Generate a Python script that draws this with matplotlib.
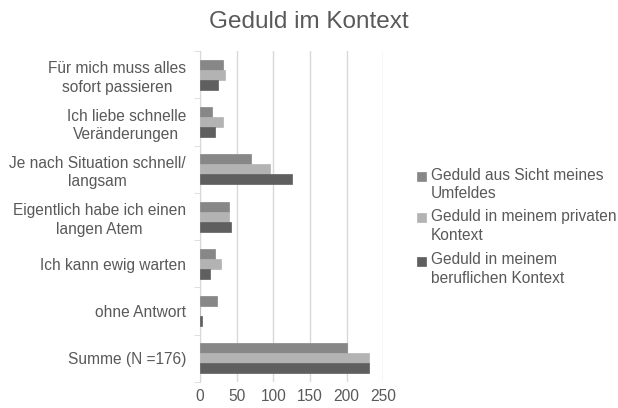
import matplotlib
matplotlib.use("Agg")
import matplotlib.pyplot as plt
import numpy as np
from matplotlib.patches import Rectangle

plt.rcParams['font.family'] = ['Liberation Sans', 'DejaVu Sans']

categories = ["Für mich muss alles\nsofort passieren",
              "Ich liebe schnelle\nVeränderungen",
              "Je nach Situation schnell/\nlangsam",
              "Eigentlich habe ich einen\nlangen Atem",
              "Ich kann ewig warten",
              "ohne Antwort",
              "Summe (N =176)"]
series_names = ["Geduld aus Sicht meines\nUmfeldes",
                "Geduld in meinem privaten\nKontext",
                "Geduld in meinem\nberuflichen Kontext"]
umfeld = [31, 17, 70, 40, 21, 23, 201]
privat = [34, 32, 96, 39, 28, 0, 230]
beruf = [24, 21, 126, 42, 14, 3, 230]
colors = ["#878787", "#b3b3b3", "#5f5f5f"]
xticks = [0, 50, 100, 150, 200, 250]

W, H = 618, 408
fig = plt.figure(figsize=(W / 100, H / 100), dpi=100)
ax = fig.add_axes([0.3236, 0.0637, 0.2966, 0.811])
txt = "#595959"

n = len(categories)
y = np.arange(n)
h = 0.212
for i, (vals, c) in enumerate(zip([umfeld, privat, beruf], colors)):
    ax.barh(y + (i - 1) * h, vals, height=h, color=c, edgecolor=c, linewidth=0.5, zorder=3)

ax.set_ylim(n - 0.5, -0.5)
ax.set_xlim(0, 250)
ax.set_xticks(xticks)
ax.set_xticklabels([str(v) for v in xticks], color=txt, fontsize=11.2)
ax.set_yticks(y)
ax.set_yticklabels(categories, color=txt, fontsize=11.2, ha='right', multialignment='center')
for t in ax.get_yticklabels():
    t.set_linespacing(1.3)
ax.tick_params(axis='y', length=0, pad=10)
ax.tick_params(axis='x', length=0, pad=5)
ax.set_yticks(np.arange(-0.5, n, 1), minor=True)
ax.tick_params(axis='y', which='minor', length=4, color="#d9d9d9")
ax.grid(axis='x', color="#d9d9d9", linewidth=1, zorder=0)
for s in ['top', 'right', 'bottom']:
    ax.spines[s].set_visible(False)
ax.spines['left'].set_color("#d9d9d9")

fig.text(0.5, 0.945, "Geduld im Kontext", ha='center', va='center', fontsize=17.5, color=txt)

# legend: marker aligned with the first line of each entry
first_line_px = [176, 218, 261]
for name, c, yp in zip(series_names, colors, first_line_px):
    fig.patches.append(Rectangle((417 / W, 1 - (yp + 4.5) / H), 9 / W, 9 / H,
                                 transform=fig.transFigure, facecolor=c, edgecolor=c, linewidth=0.5))
    fig.text(431 / W, 1 - (yp - 8.5) / H, name, ha='left', va='top', fontsize=11.2,
             color=txt, linespacing=1.3)

fig.savefig("out.png", dpi=100)
